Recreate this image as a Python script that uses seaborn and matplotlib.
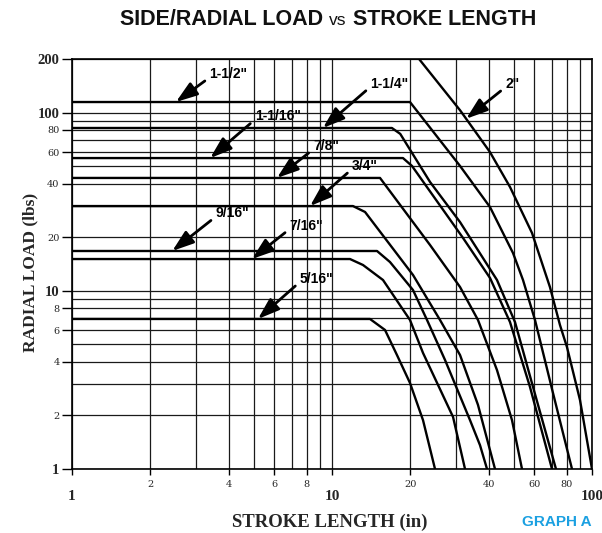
import numpy as np
import pandas as pd
import matplotlib
matplotlib.use("Agg")
import matplotlib.pyplot as plt
import matplotlib.transforms as mtransforms
import seaborn as sns
from matplotlib.ticker import FixedLocator, LogLocator, NullFormatter

sns.set_theme(style="white")

# curves: stroke length (in) vs allowed radial load (lbs)
stroke_2 = [19.0, 21.8, 31.1, 40.5, 48.4, 58.8, 68.9, 75.3, 80.1, 89.9, 100]
load_2 = [255, 197, 103, 60.1, 38.2, 21.1, 10.5, 6.43, 4.84, 2.44, 1.0]

stroke_1_1_2 = [1, 19.95, 31.08, 40.53, 49.68, 54.28, 60.36, 70.79, 83.77]
load_1_1_2 = [114.7, 114.7, 50.2, 29.5, 16.3, 11.5, 6.86, 2.67, 1.0]

stroke_1_1_4 = [1, 17.0, 18.3, 23.83, 31.08, 43.11, 50.56, 59.3, 72.69]
load_1_1_4 = [82.0, 82.0, 76.0, 40.8, 24.3, 11.5, 6.68, 2.89, 1.0]

stroke_1_1_16 = [1, 18.75, 20.31, 31.91, 40.53, 48.37, 57.73, 70.17]
load_1_1_16 = [55.6, 55.6, 50.2, 19.8, 11.8, 6.68, 2.89, 1.0]

stroke_7_8 = [1, 15.3, 23.83, 31.08, 36.43, 43.11, 49.24, 53.8]
load_7_8 = [43.0, 43.0, 18.07, 10.5, 6.86, 3.59, 1.88, 1.0]

stroke_3_4 = [1, 12.04, 13.4, 20.49, 26.03, 31.08, 36.43, 42.36]
load_3_4 = [29.9, 29.9, 27.7, 12.27, 6.86, 4.36, 2.29, 1.0]

stroke_9_16 = [1, 14.9, 16.71, 20.49, 23.2, 27.21, 33.95, 37.09, 39.47]
load_9_16 = [16.73, 16.73, 14.51, 10.1, 6.86, 4.09, 1.88, 1.36, 1.0]

stroke_7_16 = [1, 11.73, 13.16, 15.71, 19.95, 22.39, 29.21, 32.48]
load_7_16 = [15.08, 15.08, 13.96, 11.5, 6.86, 4.48, 1.96, 1.0]

stroke_5_16 = [1, 14.0, 15.99, 17.78, 19.95, 22.39, 24.9]
load_5_16 = [6.95, 6.95, 6.03, 4.36, 3.04, 1.88, 1.0]

sizes = ['2"', '1-1/2"', '1-1/4"', '1-1/16"', '7/8"', '3/4"', '9/16"', '7/16"', '5/16"']
strokes = [stroke_2, stroke_1_1_2, stroke_1_1_4, stroke_1_1_16, stroke_7_8,
           stroke_3_4, stroke_9_16, stroke_7_16, stroke_5_16]
loads = [load_2, load_1_1_2, load_1_1_4, load_1_1_16, load_7_8,
         load_3_4, load_9_16, load_7_16, load_5_16]

x_ticks = [1, 2, 4, 6, 8, 10, 20, 40, 60, 80, 100]
y_ticks = [1, 2, 4, 6, 8, 10, 20, 40, 60, 80, 100, 200]
big_ticks = [1, 10, 100, 200]

df = pd.concat([
    pd.DataFrame({"size": name, "stroke": s, "load": l})
    for name, s, l in zip(sizes, strokes, loads)
], ignore_index=True)

fig = plt.figure(figsize=(6.02, 5.33), dpi=100)
ax = fig.add_axes([72 / 602, 1 - 469 / 533, 520 / 602, 410 / 533])
ax.set_xscale("log")
ax.set_yscale("log")

sns.lineplot(data=df, x="stroke", y="load", units="size", estimator=None,
             sort=False, color="black", lw=1.7, ax=ax, zorder=3)

ax.set_xlim(1, 100)
ax.set_ylim(1, 200)

# grid on every 1..9 multiple, labels only on some
ax.xaxis.set_major_locator(FixedLocator(x_ticks))
ax.yaxis.set_major_locator(FixedLocator(y_ticks))
ax.xaxis.set_minor_locator(LogLocator(base=10, subs=np.arange(2, 10)))
ax.yaxis.set_minor_locator(LogLocator(base=10, subs=np.arange(2, 10)))
ax.xaxis.set_minor_formatter(NullFormatter())
ax.yaxis.set_minor_formatter(NullFormatter())
ax.set_xticklabels([str(v) for v in x_ticks])
ax.set_yticklabels([str(v) for v in y_ticks])
ax.grid(which="both", color="#1a1a1a", lw=0.9)
ax.tick_params(which="minor", length=0)
ax.tick_params(axis="y", which="major", length=7, width=1, color="black",
               left=True, pad=2)
ax.tick_params(axis="x", which="major", length=4, width=1, color="black",
               bottom=True, pad=4)
for sp in ax.spines.values():
    sp.set_color("black")
    sp.set_linewidth(1.2)
ax.set_xlabel("")
ax.set_ylabel("")

shift = mtransforms.ScaledTranslation(0, -7 / 72, fig.dpi_scale_trans)
for lbl, v in zip(ax.get_xticklabels(), x_ticks):
    if v in big_ticks:
        lbl.set_fontfamily("Liberation Serif")
        lbl.set_fontweight("bold")
        lbl.set_fontsize(11)
        lbl.set_transform(lbl.get_transform() + shift)
    else:
        lbl.set_fontfamily("DejaVu Serif")
        lbl.set_fontsize(7)
for lbl, v in zip(ax.get_yticklabels(), y_ticks):
    if v in big_ticks:
        lbl.set_fontfamily("Liberation Serif")
        lbl.set_fontweight("bold")
        lbl.set_fontsize(10.5)
    else:
        lbl.set_fontfamily("DejaVu Serif")
        lbl.set_fontsize(7)

# arrow labels: x of the arrow tip and text offset (points)
tip_x = {'2"': 32.8, '1-1/2"': 2.51, '1-1/4"': 9.23, '1-1/16"': 3.40,
         '7/8"': 6.14, '3/4"': 8.23, '9/16"': 2.43, '7/16"': 4.92, '5/16"': 5.19}
text_off = {'2"': (28, 25), '1-1/2"': (24, 20), '1-1/4"': (34, 32),
            '1-1/16"': (32, 30), '7/8"': (26, 23), '3/4"': (30, 29),
            '9/16"': (31, 27), '7/16"': (27, 24), '5/16"': (30, 29)}
for name, s, l in zip(sizes, strokes, loads):
    x = tip_x[name]
    y = 10 ** np.interp(np.log10(x), np.log10(s), np.log10(l))
    ax.annotate(name, xy=(x, y), xytext=text_off[name], textcoords="offset points",
                ha="left", va="center", fontsize=10, fontweight="bold",
                family="Liberation Sans", color="black", zorder=5,
                arrowprops=dict(arrowstyle="-|>,head_length=1.3,head_width=0.45",
                                color="black", lw=2.0, mutation_scale=10,
                                shrinkA=1, shrinkB=0, relpos=(0, 0.25)))

# axis titles
fig.text(30 / 602, 1 - 272 / 533, "RADIAL LOAD (lbs)", rotation=90, ha="center",
         va="center", family="Liberation Serif", fontweight="bold", fontsize=12.5)
fig.text(330 / 602, 1 - 522 / 533, "STROKE LENGTH (in)", ha="center", va="center",
         family="Liberation Serif", fontweight="bold", fontsize=13.5)
fig.text(592 / 602, 1 - 522 / 533, "GRAPH A", ha="right", va="center",
         family="Liberation Sans", fontweight="bold", fontsize=11, color="#1ba0e1")

# title with a lighter "vs" in the middle
r = fig.canvas.get_renderer()
parts = [("SIDE/RADIAL LOAD", "bold", 15.5), ("vs", "normal", 12.5),
         ("STROKE LENGTH", "bold", 15.5)]
gap = 6
texts = []
for txt, w, fs in parts:
    t = fig.text(0, 1 - 25 / 533, txt, ha="left", va="baseline", fontweight=w,
                 fontsize=fs, family=["Liberation Sans Narrow", "Liberation Sans"],
                 color="#111111")
    texts.append(t)
widths = [t.get_window_extent(r).width for t in texts]
total = sum(widths) + gap * (len(widths) - 1)
x0 = 328 - total / 2
for t, w in zip(texts, widths):
    t.set_x(x0 / 602)
    x0 += w + gap

fig.savefig("out.png", dpi=100)
